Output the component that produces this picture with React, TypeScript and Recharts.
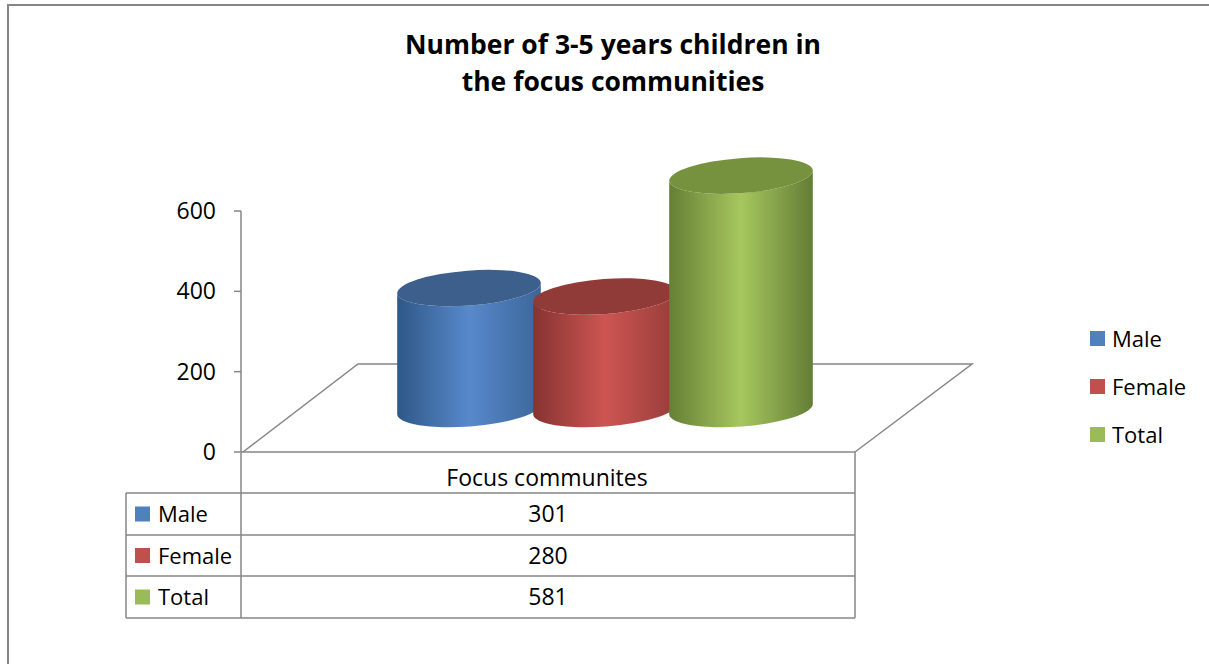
import React from 'react'
import { BarChart, Bar, XAxis, YAxis } from 'recharts'

const categories = ['Focus communites']
const seriesNames = ['Male', 'Female', 'Total']
const maleValues = [301]
const femaleValues = [280]
const totalValues = [581]
const yTicks = [0, 200, 400, 600]

const titleLines = ['Number of 3-5 years children in', 'the focus communities']

const colors: Record<string, { left: string; mid: string; right: string; top: string; key: string }> = {
  Male: { left: '#2F5787', mid: '#5789CB', right: '#3B6699', top: '#3C5F8B', key: '#4F81BD' },
  Female: { left: '#863331', mid: '#CD5552', right: '#963D3A', top: '#903B38', key: '#C0504D' },
  Total: { left: '#667F35', mid: '#A6C75E', right: '#637D36', top: '#77923F', key: '#9BBB59' },
}

const data = categories.map((c, i) => ({
  name: c,
  Male: maleValues[i],
  Female: femaleValues[i],
  Total: totalValues[i],
}))

const FONT = '"Open Sans", "Liberation Sans", sans-serif'
const GRID = '#868686'

// depth offset of the cylinders (they stand half way back on the floor)
const DX = 57
const DY = 43

function Cylinder(props: any) {
  const { x, y, width, height, series } = props
  const c = colors[series]
  const cx = x + width / 2 + DX
  const rx = 72
  const ry = 17.5
  const tilt = 4.3
  const ex = rx * Math.cos((tilt * Math.PI) / 180)
  const ey = rx * Math.sin((tilt * Math.PI) / 180)
  const topY = y - DY
  const baseY = y + height - DY
  const id = `grad-${series}`
  const body = [
    `M ${cx - ex} ${topY + ey}`,
    `L ${cx - ex} ${baseY + ey}`,
    `A ${rx} ${ry} ${-tilt} 0 0 ${cx + ex} ${baseY - ey}`,
    `L ${cx + ex} ${topY - ey}`,
    `A ${rx} ${ry} ${-tilt} 0 1 ${cx - ex} ${topY + ey}`,
    'Z',
  ].join(' ')
  return (
    <g>
      <defs>
        <linearGradient id={id} x1="0" y1="0" x2="1" y2="0">
          <stop offset="0%" stopColor={c.left} />
          <stop offset="50%" stopColor={c.mid} />
          <stop offset="100%" stopColor={c.right} />
        </linearGradient>
      </defs>
      <path d={body} fill={`url(#${id})`} />
      <ellipse cx={cx} cy={topY} rx={rx} ry={ry} fill={c.top} transform={`rotate(${-tilt} ${cx} ${topY})`} />
    </g>
  )
}

function SideLegend() {
  return (
    <div style={{ position: 'absolute', left: 1090, top: 314, fontFamily: FONT, fontSize: 22, color: '#000' }}>
      {seriesNames.map(s => (
        <div key={s} style={{ display: 'flex', alignItems: 'center', height: 48 }}>
          <span style={{ display: 'inline-block', width: 15, height: 15, background: colors[s].key, marginRight: 7 }} />
          <span>{s}</span>
        </div>
      ))}
    </div>
  )
}

function Backdrop() {
  const rows = [493, 535, 576, 618]
  const values = [maleValues[0], femaleValues[0], totalValues[0]]
  return (
    <svg width={1209} height={664} style={{ position: 'absolute', left: 0, top: 0 }}>
      <rect x={0} y={0} width={1209} height={664} fill="#fff" />
      <path d="M 8 664 L 8 5 L 1209 5" fill="none" stroke={GRID} strokeWidth={2} />
      {titleLines.map((t, i) => (
        <text key={t} x={613} y={54 + i * 37} textAnchor="middle" fontFamily={FONT} fontWeight="bold" fontSize={26.5} fill="#000">
          {t}
        </text>
      ))}
      {/* floor */}
      <path d="M 243 452 L 358 364 L 972 364 L 855 452" fill="none" stroke={GRID} strokeWidth={1.5} />
      {/* data table */}
      <g stroke={GRID} strokeWidth={1.5} fill="none">
        <line x1={241} y1={452} x2={855} y2={452} />
        <line x1={855} y1={452} x2={855} y2={618} />
        <line x1={241} y1={452} x2={241} y2={618} />
        <line x1={126} y1={493} x2={126} y2={618} />
        {rows.map(r => (
          <line key={r} x1={126} y1={r} x2={855} y2={r} />
        ))}
      </g>
      <text x={547} y={486} textAnchor="middle" fontFamily={FONT} fontSize={23} fill="#000">
        {categories[0]}
      </text>
      {seriesNames.map((s, i) => {
        const mid = (rows[i] + rows[i + 1]) / 2
        return (
          <g key={s}>
            <rect x={135} y={mid - 7.5} width={15} height={15} fill={colors[s].key} />
            <text x={158} y={mid + 8} fontFamily={FONT} fontSize={22} fill="#000">
              {s}
            </text>
            <text x={548} y={mid + 8} textAnchor="middle" fontFamily={FONT} fontSize={23} fill="#000">
              {values[i]}
            </text>
          </g>
        )
      })}
    </svg>
  )
}

export default function App() {
  return (
    <div style={{ position: 'absolute', left: 0, top: 0, width: 1209, height: 664 }}>
      <Backdrop />
      <div style={{ position: 'absolute', left: 0, top: 0 }}>
        <BarChart
          width={1209}
          height={664}
          data={data}
          margin={{ top: 211, right: 354, bottom: 212, left: 141 }}
          barSize={136}
          barGap={0}
        >
          <XAxis dataKey="name" hide />
          <YAxis
            width={100}
            domain={[0, 600]}
            ticks={yTicks}
            interval={0}
            tickSize={7}
            tickMargin={18}
            axisLine={{ stroke: GRID, strokeWidth: 1.5 }}
            tickLine={{ stroke: GRID, strokeWidth: 1.5 }}
            tick={{ fill: '#000', fontSize: 23, fontFamily: FONT }}
          />
          {seriesNames.map(s => (
            <Bar
              key={s}
              dataKey={s}
              isAnimationActive={false}
              fill={colors[s].key}
              shape={(p: any) => <Cylinder {...p} series={s} />}
            />
          ))}
        </BarChart>
      </div>
      <SideLegend />
    </div>
  )
}
